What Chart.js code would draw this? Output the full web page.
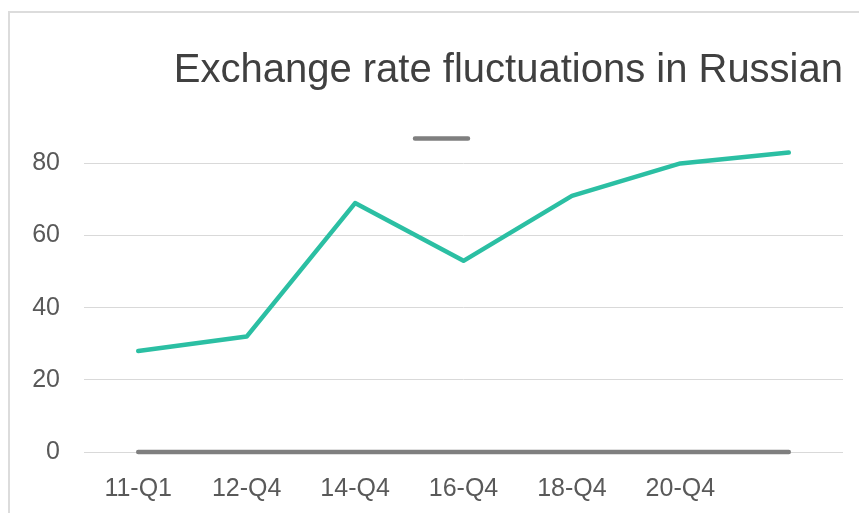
<!DOCTYPE html>
<html>
<head>
<meta charset="utf-8">
<script src="https://cdn.jsdelivr.net/npm/chart.js@4/dist/chart.umd.min.js"></script>
<style>
  html, body { margin: 0; padding: 0; background: #fff; overflow: hidden; }
  #frame {
    position: absolute; left: 8px; top: 11px; width: 2000px; height: 2000px;
    border-left: 2px solid #dcdcdc; border-top: 2px solid #dcdcdc;
  }
  #chart { position: absolute; left: 0; top: 0; }
</style>
</head>
<body>
<div id="frame"></div>
<canvas id="chart" width="859" height="513"></canvas>
<script>
const categories = ['11-Q1', '12-Q4', '14-Q4', '16-Q4', '18-Q4', '20-Q4', ''];
const rateValues = [28, 32, 69, 53, 71, 80, 83];
const baseValues = [0, 0, 0, 0, 0, 0, 0];
const yTicks = [0, 20, 40, 60, 80];

const tickFont = { family: '"Liberation Sans", Arial, sans-serif', size: 25 };

// the legend is centred over a narrower band than the canvas, so the y axis
// box is kept thin for layout and widened afterwards so its labels aren't clipped
const widenYAxis = {
  id: 'widenYAxis',
  afterLayout(chart) {
    chart.scales.y.left = 0;
  }
};

const ctx = document.getElementById('chart').getContext('2d');
new Chart(ctx, {
  type: 'line',
  data: {
    labels: categories,
    datasets: [
      {
        label: 'Exchange rate',
        data: rateValues,
        borderColor: '#2bbfa3',
        backgroundColor: '#2bbfa3',
        borderWidth: 4.5,
        borderCapStyle: 'round',
        borderJoinStyle: 'round',
        pointRadius: 0,
        tension: 0,
        clip: false
      },
      {
        label: '',
        data: baseValues,
        borderColor: '#7f7f7f',
        backgroundColor: '#7f7f7f',
        borderWidth: 4.5,
        borderCapStyle: 'round',
        borderJoinStyle: 'round',
        pointRadius: 0,
        tension: 0,
        clip: false
      }
    ]
  },
  plugins: [widenYAxis],
  options: {
    responsive: false,
    animation: false,
    layout: {
      padding: { left: 40.5, right: 16, top: 0, bottom: 0 }
    },
    scales: {
      x: {
        offset: true,
        grid: { display: false, drawTicks: false },
        border: { display: false },
        ticks: {
          autoSkip: false,
          maxRotation: 0,
          padding: 22,
          color: '#595959',
          font: tickFont
        },
        afterFit: (scale) => { scale.height = 61; }
      },
      y: {
        min: 0,
        max: 84,
        afterBuildTicks: (axis) => {
          axis.ticks = yTicks.map(v => ({ value: v }));
        },
        grid: { color: '#d9d9d9', lineWidth: 1, drawTicks: false },
        border: { display: false },
        ticks: {
          padding: 24,
          color: '#595959',
          font: tickFont
        },
        afterFit: (scale) => { scale.width = 43.5; }
      }
    },
    plugins: {
      title: {
        display: true,
        text: 'Exchange rate fluctuations in Russian',
        align: 'end',
        color: '#404040',
        font: { family: '"Liberation Sans", Arial, sans-serif', size: 40, weight: 'normal' },
        padding: { top: 46.6, bottom: 0 }
      },
      legend: {
        position: 'top',
        labels: {
          boxWidth: 53,
          boxHeight: 0,
          padding: 43.4,
          font: { size: 1 },
          filter: (item) => item.datasetIndex === 1
        }
      },
      tooltip: { enabled: false }
    }
  }
});
</script>
</body>
</html>
